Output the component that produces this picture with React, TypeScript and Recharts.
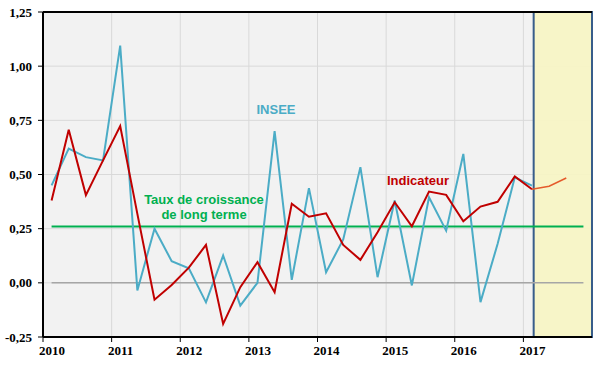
import { LineChart, Line, XAxis, YAxis, CartesianGrid, ReferenceArea, ReferenceLine } from 'recharts'

// quarterly series, first point = 2010 Q1
const startYear = 2010
const yearTicks = [2010, 2011, 2012, 2013, 2014, 2015, 2016, 2017]
const valueTicks = [-0.25, 0, 0.25, 0.5, 0.75, 1, 1.25]

const insee = [
  0.45, 0.62, 0.58, 0.565,
  1.095, -0.035, 0.25, 0.1,
  0.067, -0.09, 0.126, -0.105,
  0.0, 0.7, 0.014, 0.437,
  0.049, 0.2, 0.534, 0.026,
  0.38, -0.012, 0.395, 0.241,
  0.595, -0.089, 0.18, 0.487,
  0.449,
]

const indicateur = [
  0.38, 0.707, 0.405, 0.565,
  0.724, 0.318, -0.078, -0.01,
  0.07, 0.175, -0.19, -0.02,
  0.095, -0.043, 0.365, 0.305,
  0.321, 0.175, 0.106, 0.233,
  0.372, 0.261, 0.421, 0.406,
  0.284, 0.352, 0.374, 0.491,
  0.432,
]

// 2017 Q1 -> Q3
const prevision = [0.432, 0.446, 0.484]
const previsionStart = 28

const longTerme = 0.26
const nbQuarters = 32
const forecastZoneStart = 2017.15

const rows = Array.from({ length: nbQuarters }, (_, i) => ({
  x: startYear + (i + 0.5) / 4,
  insee: i < insee.length ? insee[i] : null,
  indicateur: i < indicateur.length ? indicateur[i] : null,
  prevision: i >= previsionStart && i - previsionStart < prevision.length ? prevision[i - previsionStart] : null,
  longTerme: longTerme,
  zero: 0,
}))

const fmt = (v: number) => v.toFixed(2).replace('.', ',')

const YearTick = (props: any) => {
  const { x, y, payload } = props
  return (
    <text x={x + 9} y={y + 11} textAnchor="middle" fontFamily="'Liberation Serif', serif" fontWeight="bold" fontSize={13} fill="#000">
      {payload.value}
    </text>
  )
}

export default function App() {
  return (
    <div style={{ position: 'absolute', left: 0, top: 0, width: 600, height: 370, background: '#fff' }}>
      <LineChart width={600} height={370} data={rows} margin={{ top: 12, right: 8, left: 0, bottom: 0 }}>
        <CartesianGrid stroke="#d9d9d9" fill="#f2f2f2" />
        <XAxis
          dataKey="x"
          type="number"
          domain={[2010, 2018]}
          ticks={yearTicks}
          height={33}
          tickSize={5}
          tickMargin={2}
          axisLine={{ stroke: '#000', strokeWidth: 2 }}
          tickLine={{ stroke: '#000' }}
          tick={<YearTick />}
        />
        <YAxis
          type="number"
          domain={[-0.25, 1.25]}
          ticks={valueTicks}
          width={43}
          tickSize={5}
          tickMargin={6}
          tickFormatter={fmt}
          axisLine={{ stroke: '#000', strokeWidth: 2 }}
          tickLine={{ stroke: '#000' }}
          tick={{ fontFamily: "'Liberation Serif', serif", fontWeight: 'bold', fontSize: 13, fill: '#000' }}
        />
        <ReferenceLine y={1.25} stroke="#000" strokeWidth={2} />
        <ReferenceArea x1={forecastZoneStart} x2={2018} y1={-0.25} y2={1.25} fill="#f7f5c4" fillOpacity={0.92} stroke="#385d8a" strokeWidth={2} />
        <Line dataKey="zero" stroke="#a6a6a6" strokeWidth={1.5} dot={false} isAnimationActive={false} />
        <Line dataKey="longTerme" stroke="#00b050" strokeWidth={2} dot={false} isAnimationActive={false} />
        <Line dataKey="insee" stroke="#4bacc6" strokeWidth={2} dot={false} isAnimationActive={false} />
        <Line dataKey="indicateur" stroke="#c00000" strokeWidth={2} dot={false} isAnimationActive={false} />
        <Line dataKey="prevision" stroke="#e55b2b" strokeWidth={1.5} dot={false} isAnimationActive={false} />
      </LineChart>
      <svg width={600} height={370} style={{ position: 'absolute', left: 0, top: 0, pointerEvents: 'none' }}>
        <g fontFamily="'Liberation Sans', Arial, sans-serif" fontWeight="bold" fontSize={13} textAnchor="middle">
          <text x={276} y={114} fill="#4bacc6">INSEE</text>
          <text x={418} y={185} fill="#c00000">Indicateur</text>
          <text x={204} y={204} fill="#00b050">Taux de croissance</text>
          <text x={204} y={219} fill="#00b050">de long terme</text>
        </g>
      </svg>
    </div>
  )
}
